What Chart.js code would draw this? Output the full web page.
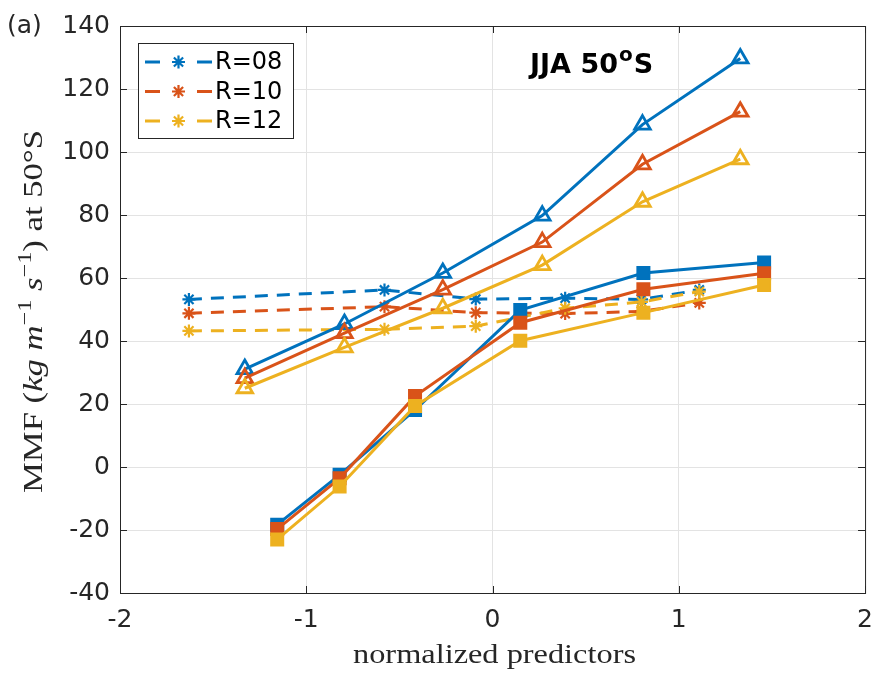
<!DOCTYPE html>
<html>
<head>
<meta charset="utf-8">
<script src="https://cdn.jsdelivr.net/npm/chart.js@4"></script>
<style>
    body { margin: 0; background: #fff; }
    #wrap { width: 885px; height: 678px; }
</style>
</head>
<body>
<div id="wrap"><canvas id="mmfChart" width="885" height="678"></canvas></div>
<script>
// Series labels and colours (MATLAB default order)
const runLabels = ['R=08', 'R=10', 'R=12'];
const runColors = ['#0072BD', '#D95319', '#EDB120'];

// Dashed lines with asterisks
const starX = [-1.63, -0.58, -0.09, 0.39, 0.80, 1.11];
const star08 = [53.2, 56.2, 53.3, 53.6, 53.2, 56.2];
const star10 = [48.8, 50.9, 49.0, 48.7, 49.4, 52.1];
const star12 = [43.2, 43.7, 44.7, 50.4, 52.4, 55.7];

// Solid lines with open triangles
const triX = [-1.33, -0.795, -0.267, 0.267, 0.805, 1.33];
const tri08 = [31.1, 45.4, 61.6, 79.8, 108.7, 129.7];
const tri10 = [28.2, 42.5, 56.3, 71.4, 96.1, 112.8];
const tri12 = [25.0, 38.0, 50.4, 64.1, 84.2, 97.7];

// Solid lines with filled squares
const sqX = [-1.156, -0.821, -0.416, 0.149, 0.81, 1.458];
const sq08 = [-18.3, -2.5, 18.1, 49.8, 61.6, 64.9];
const sq10 = [-19.7, -3.6, 22.5, 45.8, 56.4, 61.5];
const sq12 = [-23.0, -6.2, 19.4, 40.1, 49.0, 57.8];

// Axis ticks
const xTicks = [-2, -1, 0, 1, 2];
const yTicks = [-40, -20, 0, 20, 40, 60, 80, 100, 120, 140];

const axisColor = '#262626';
const sansFont = '"DejaVu Sans", sans-serif';
const serifFont = '"Liberation Serif", serif';

function toPoints(xs, ys) {
    return xs.map((x, i) => ({ x: x, y: ys[i] }));
}

let plotIndex = 0;
function makeSet(xs, ys, run, kind) {
    const color = runColors[run];
    const set = {
        label: runLabels[run],
        data: toPoints(xs, ys),
        showLine: true,
        borderColor: color,
        borderWidth: 3,
        pointBorderColor: color,
        order: 100 - plotIndex++
    };
    if (kind === 'star') {
        set.borderDash = [13, 9];
        set.pointStyle = 'star';
        set.pointRadius = 6.5;
        set.pointBorderWidth = 2.2;
        set.pointBackgroundColor = color;
    } else if (kind === 'tri') {
        set.pointStyle = 'triangle';
        set.pointRadius = 9;
        set.pointBorderWidth = 2.8;
        set.pointBackgroundColor = 'rgba(0,0,0,0)';
    } else {
        set.pointStyle = 'rect';
        set.pointRadius = 8.5;
        set.pointBorderWidth = 2;
        set.pointBackgroundColor = color;
    }
    return set;
}

const datasets = [
    makeSet(starX, star08, 0, 'star'),
    makeSet(starX, star10, 1, 'star'),
    makeSet(starX, star12, 2, 'star'),
    makeSet(triX, tri08, 0, 'tri'),
    makeSet(triX, tri10, 1, 'tri'),
    makeSet(triX, tri12, 2, 'tri'),
    makeSet(sqX, sq08, 0, 'sq'),
    makeSet(sqX, sq10, 1, 'sq'),
    makeSet(sqX, sq12, 2, 'sq')
];

function drawStar(ctx, x, y, r, color) {
    ctx.save();
    ctx.strokeStyle = color;
    ctx.lineWidth = 2.2;
    ctx.beginPath();
    for (let k = 0; k < 4; k++) {
        const a = k * Math.PI / 4;
        ctx.moveTo(x - Math.cos(a) * r, y - Math.sin(a) * r);
        ctx.lineTo(x + Math.cos(a) * r, y + Math.sin(a) * r);
    }
    ctx.stroke();
    ctx.restore();
}

// Draw text made of pieces (italic / superscript) centred at the origin.
// Glyphs are stretched sideways to fitWidth, since the LaTeX font is wider than Times
function drawPieces(ctx, pieces, size, fitWidth, cy) {
    const fontFor = p => (p.italic ? 'italic ' : '') + (p.sup ? size * 0.7 : size) + 'px ' + serifFont;
    let base = 0;
    pieces.forEach(p => {
        ctx.font = fontFor(p);
        base += ctx.measureText(p.t).width;
    });
    ctx.save();
    ctx.scale(fitWidth / base, 1);
    let x = -base / 2;
    ctx.textBaseline = 'alphabetic';
    ctx.textAlign = 'left';
    pieces.forEach(p => {
        ctx.font = fontFor(p);
        ctx.fillText(p.t, x, cy - (p.sup ? size * 0.42 : 0));
        x += ctx.measureText(p.t).width;
    });
    ctx.restore();
}

const decorPlugin = {
    id: 'decor',
    afterDraw(chart) {
        const ctx = chart.ctx;
        const area = chart.chartArea;
        const xs = chart.scales.x;
        const ys = chart.scales.y;

        // Box and inward ticks on all four sides
        ctx.save();
        ctx.strokeStyle = axisColor;
        ctx.lineWidth = 1;
        ctx.strokeRect(area.left + 0.5, area.top + 0.5, area.right - area.left, area.bottom - area.top);
        const tl = 7;
        ctx.beginPath();
        xTicks.forEach(v => {
            const px = Math.round(xs.getPixelForValue(v)) + 0.5;
            ctx.moveTo(px, area.bottom); ctx.lineTo(px, area.bottom - tl);
            ctx.moveTo(px, area.top); ctx.lineTo(px, area.top + tl);
        });
        yTicks.forEach(v => {
            const py = Math.round(ys.getPixelForValue(v)) + 0.5;
            ctx.moveTo(area.left, py); ctx.lineTo(area.left + tl, py);
            ctx.moveTo(area.right, py); ctx.lineTo(area.right - tl, py);
        });
        ctx.stroke();

        // Panel letter
        ctx.fillStyle = axisColor;
        ctx.font = '25px ' + sansFont;
        ctx.textAlign = 'left';
        ctx.textBaseline = 'middle';
        ctx.fillText('(a)', 7, 26);

        // Panel title
        ctx.fillStyle = '#000';
        ctx.font = 'bold 27px ' + sansFont;
        ctx.textBaseline = 'alphabetic';
        let tx = 530;
        ctx.fillText('JJA 50', tx, 73);
        tx += ctx.measureText('JJA 50').width;
        ctx.font = 'bold 20px ' + sansFont;
        ctx.fillText('o', tx + 1, 61);
        tx += ctx.measureText('o').width + 1;
        ctx.font = 'bold 27px ' + sansFont;
        ctx.fillText('S', tx + 1, 73);

        // Legend
        ctx.fillStyle = '#fff';
        ctx.fillRect(138.5, 43.5, 155, 95);
        ctx.strokeStyle = axisColor;
        ctx.lineWidth = 1;
        ctx.strokeRect(138.5, 43.5, 155, 95);
        const rowY = [62, 91.5, 121];
        runLabels.forEach((lab, i) => {
            const y = rowY[i];
            ctx.strokeStyle = runColors[i];
            ctx.lineWidth = 3;
            ctx.beginPath();
            ctx.moveTo(145, y); ctx.lineTo(160, y);
            ctx.moveTo(197, y); ctx.lineTo(212, y);
            ctx.stroke();
            drawStar(ctx, 178.5, y, 6.5, runColors[i]);
            ctx.fillStyle = '#000';
            ctx.font = '24px ' + sansFont;
            ctx.textBaseline = 'middle';
            ctx.fillText(lab, 215, y + 1);
        });

        // Axis titles (LaTeX style)
        ctx.fillStyle = axisColor;
        ctx.save();
        ctx.translate(494.5, 0);
        drawPieces(ctx, [{ t: 'normalized predictors' }], 27, 283, 663);
        ctx.restore();

        ctx.save();
        ctx.translate(42, 311.5);
        ctx.rotate(-Math.PI / 2);
        drawPieces(ctx, [
            { t: 'MMF (' },
            { t: 'kg', italic: true },
            { t: ' ' },
            { t: 'm', italic: true },
            { t: '\u22121', sup: true },
            { t: ' ' },
            { t: 's', italic: true },
            { t: '\u22121', sup: true },
            { t: ') at 50\u00B0S' }
        ], 27, 363, 0);
        ctx.restore();
        ctx.restore();
    }
};

new Chart(document.getElementById('mmfChart'), {
    type: 'scatter',
    data: { datasets: datasets },
    options: {
        responsive: false,
        animation: false,
        layout: { padding: { left: 0, right: 17, top: 26, bottom: 0 } },
        plugins: {
            legend: { display: false },
            tooltip: { enabled: false }
        },
        scales: {
            x: {
                type: 'linear',
                min: -2,
                max: 2,
                afterBuildTicks: s => { s.ticks = xTicks.map(v => ({ value: v })); },
                afterFit: s => { s.height = 85; },
                grid: { color: '#e3e3e3', drawTicks: false },
                border: { display: false },
                ticks: {
                    padding: 12,
                    color: axisColor,
                    font: { family: sansFont, size: 25 }
                }
            },
            y: {
                min: -40,
                max: 140,
                afterBuildTicks: s => { s.ticks = yTicks.map(v => ({ value: v })); },
                afterFit: s => { s.width = 120; },
                grid: { color: '#e3e3e3', drawTicks: false },
                border: { display: false },
                ticks: {
                    padding: 10,
                    color: axisColor,
                    font: { family: sansFont, size: 25 }
                }
            }
        }
    },
    plugins: [decorPlugin]
});
</script>
</body>
</html>
